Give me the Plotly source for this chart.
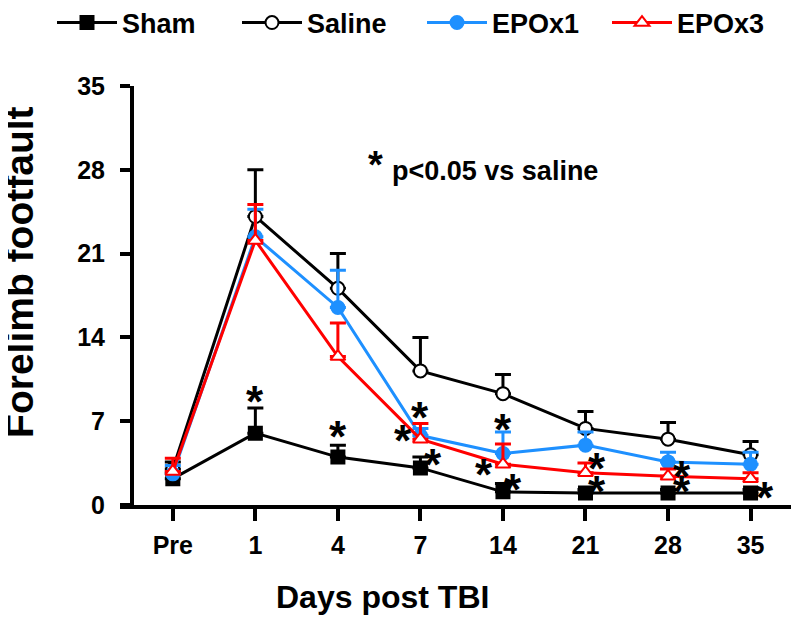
import plotly.graph_objects as go

days = ["Pre", "1", "4", "7", "14", "21", "28", "35"]
xpos = list(range(len(days)))

sham = [2.2, 6.0, 4.0, 3.1, 1.1, 1.0, 1.0, 1.0]
sham_err = [0.5, 2.1, 1.0, 0.9, 0.7, 0.3, 0.3, 0.3]
saline = [3.0, 24.1, 18.1, 11.2, 9.3, 6.4, 5.5, 4.2]
saline_err = [0.6, 3.9, 2.9, 2.8, 1.6, 1.4, 1.4, 1.1]
epo1 = [2.6, 22.4, 16.5, 5.8, 4.3, 5.0, 3.6, 3.4]
epo1_err = [0.7, 2.3, 3.1, 0.6, 1.8, 1.1, 0.8, 1.0]
epo3 = [2.8, 22.1, 12.4, 5.5, 3.4, 2.7, 2.4, 2.2]
epo3_err = [1.1, 3.0, 2.8, 1.3, 1.7, 0.8, 0.6, 0.5]

# significance asterisks: (x position on category scale, y value)
star_x = [1, 2, 3, 2.79, 3.15, 4, 3.77, 4.12, 5.14, 5.14, 6.17, 6.17, 7.18]
star_y = [9.2, 6.3, 7.9, 6.0, 4.0, 6.9, 3.1, 1.9, 3.6, 1.75, 3.0, 1.75, 1.25]

FONT = "Liberation Sans, Arial, sans-serif"

fig = go.Figure()

def add(name, y, err, color, symbol, fill):
    fig.add_trace(go.Scatter(
        x=xpos, y=y, name=name, mode="lines+markers",
        line=dict(color=color, width=3),
        marker=dict(symbol=symbol, size=13, color=fill,
                    line=dict(color=color, width=2)),
        error_y=dict(type="data", array=err, arrayminus=[0] * len(err),
                     symmetric=False, color=color, thickness=3, width=8),
    ))

add("Sham", sham, sham_err, "black", "square", "black")
add("Saline", saline, saline_err, "black", "circle", "white")
add("EPOx1", epo1, epo1_err, "#1E90FF", "circle", "#1E90FF")
add("EPOx3", epo3, epo3_err, "#FF0000", "triangle-up", "white")

for sx, sy in zip(star_x, star_y):
    fig.add_annotation(x=sx, y=sy, text="<b>*</b>", showarrow=False,
                       font=dict(family=FONT, size=44, color="black"),
                       yanchor="middle", xanchor="center", yshift=-7)

fig.add_annotation(x=0.3815, y=0.812, xref="paper", yref="paper",
                   text="<b>*</b>", showarrow=False, xanchor="center", yanchor="middle",
                   font=dict(family=FONT, size=38, color="black"))
fig.add_annotation(x=0.403, y=0.797, xref="paper", yref="paper",
                   text="<b>p<0.05 vs saline</b>", showarrow=False,
                   xanchor="left", yanchor="middle",
                   font=dict(family=FONT, size=27, color="black"))

# axis titles
fig.add_annotation(x=0.3905, y=-0.22, xref="paper", yref="paper",
                   text="<b>Days post TBI</b>", showarrow=False,
                   xanchor="center", yanchor="middle",
                   font=dict(family=FONT, size=32, color="black"))
fig.add_annotation(x=-0.149, y=0.554, xref="paper", yref="paper",
                   text="<b>Forelimb footfault</b>", showarrow=False, textangle=-90,
                   xanchor="center", yanchor="middle",
                   font=dict(family=FONT, size=39, color="black"))

fig.update_layout(
    width=792, height=618,
    margin=dict(l=112, r=9, t=78, b=121, autoexpand=False),
    paper_bgcolor="white", plot_bgcolor="white",
    font=dict(family=FONT, color="black"),
    showlegend=True,
    legend=dict(orientation="h", x=(44 - 112) / 671, y=(497 - 15) / 419,
                xref="paper", yref="paper",
                xanchor="left", yanchor="middle",
                entrywidth=110, entrywidthmode="pixels", itemwidth=60,
                font=dict(family=FONT, size=27, color="black", weight="bold")),
    xaxis=dict(range=[-0.64, 7.49], tickvals=xpos, ticktext=days,
               showline=True, linewidth=4, linecolor="black",
               ticks="outside", ticklen=12, tickwidth=4, tickcolor="black",
               ticklabelstandoff=3,
               showgrid=False, zeroline=False,
               tickfont=dict(family=FONT, size=25, weight="bold")),
    yaxis=dict(range=[0, 35], tickvals=[0, 7, 14, 21, 28, 35],
               anchor="free", position=12 / 671,
               showline=True, linewidth=4, linecolor="black",
               ticks="outside", ticklen=10, tickwidth=4, tickcolor="black",
               ticklabelstandoff=10,
               showgrid=False, zeroline=False,
               tickfont=dict(family=FONT, size=25, weight="bold")),
)

fig.write_html("out.html")
